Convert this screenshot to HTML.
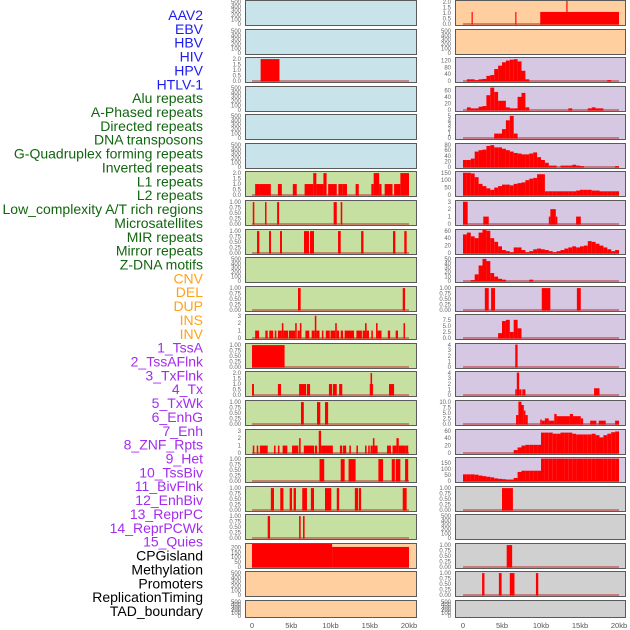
<!DOCTYPE html>
<html><head><meta charset="utf-8"><style>
html,body{margin:0;padding:0;background:#fff;width:630px;height:630px;overflow:hidden}
svg{display:block}
</style></head><body>
<svg id="chart" width="630" height="630" viewBox="0 0 630 630" xmlns="http://www.w3.org/2000/svg"></svg>
<script>
const labels = ["AAV2","EBV","HBV","HIV","HPV","HTLV-1","Alu repeats","A-Phased repeats","Directed repeats","DNA transposons","G-Quadruplex forming repeats","Inverted repeats","L1 repeats","L2 repeats","Low_complexity A/T rich regions","Microsatellites","MIR repeats","Mirror repeats","Z-DNA motifs","CNV","DEL","DUP","INS","INV","1_TssA","2_TssAFlnk","3_TxFlnk","4_Tx","5_TxWk","6_EnhG","7_Enh","8_ZNF_Rpts","9_Het","10_TssBiv","11_BivFlnk","12_EnhBiv","13_ReprPC","14_ReprPCWk","15_Quies","CPGisland","Methylation","Promoters","ReplicationTiming","TAD_boundary"];
const labelGroups = [6,13,5,15,5];
const groupColors = ["#1c1cf0","#11660f","#ffa31a","#a32cf0","#000000"];
const xTickLabels = ["0","5kb","10kb","15kb","20kb"];
const xTickValues = [0,5,10,15,20];

const E = [0,100,200,300,400,500];
const T1 = [0,0.25,0.5,0.75,1];
const T2 = [0,0.5,1,1.5,2];

const L_bg = ["#c8e4ea","#c8e4ea","#c8e4ea","#c8e4ea","#c8e4ea","#c8e4ea","#c6e0a2","#c6e0a2","#c6e0a2","#c6e0a2","#c6e0a2","#c6e0a2","#c6e0a2","#c6e0a2","#c6e0a2","#c6e0a2","#c6e0a2","#c6e0a2","#c6e0a2","#ffcf9f","#ffcf9f","#ffcf9f"];
const L_ymax = [520,520,2.1,520,520,520,2.1,1.05,1.05,520,1.05,3.1,1.05,2.1,1.05,3.1,1.05,1.05,1.05,235,520,520];
const L_ticks = [E,E,T2,E,E,E,T2,T1,T1,E,T1,[0,1,2,3],T1,T2,T1,[0,1,2,3],T1,T1,T1,[0,50,100,150,200],E,E];
const L_segs = [
 [],[],
 [[1.1,3.5,2]],
 [],[],[],
 [[0.4,0.9,1],[0.9,2.4,1],[3.3,3.8,1],[5.2,5.7,1],[6.7,7.8,1],[7.8,8.2,2],[8.2,9.1,1],[9.1,9.5,2],[9.7,10.8,1],[11,11.5,1],[11.5,12.1,1],[13.2,13.6,1],[15.2,15.5,1],[15.5,16.2,2],[16.2,16.5,1],[16.9,17.9,1],[18.1,18.9,1],[18.9,20,2]],
 [[0.1,0.3,1],[1.66,1.85,1],[3.2,3.45,1],[10.4,10.8,1],[11.3,11.5,1]],
 [[0.64,0.93,1],[2.17,2.42,1],[3.57,3.82,1],[6.62,7.26,1],[7.39,7.9,1],[10.96,11.3,1],[13.9,14.2,1],[17.96,18.26,1],[19.4,19.7,1]],
 [],
 [[5.86,6.2,1],[19.2,19.5,1]],
 [[0.4,0.9,1],[1.7,2.0,1],[2.2,2.7,1],[2.9,3.1,1],[3.3,3.8,1],[3.8,4.0,2],[4.0,4.6,1],[4.7,5.5,1],[5.5,5.7,2],[5.8,6.1,1],[6.1,6.3,2],[6.8,7.3,1],[7.6,8.0,1],[8.0,8.2,3],[8.2,8.6,1],[8.9,9.1,1],[9.4,9.9,1],[10.0,10.6,1],[10.6,10.8,2],[10.8,11.1,1],[11.3,11.6,1],[11.8,13.0,1],[13.3,14.0,1],[14.1,14.4,1],[14.4,14.6,2],[14.6,14.9,1],[15.2,15.4,1],[15.8,16.0,2],[16.0,16.5,1],[17.3,17.6,1],[18.3,18.6,1],[19.3,19.5,2]],
 [[0,4.15,1]],
 [[0,0.25,1],[3.3,3.7,1],[6.0,6.9,1],[7.0,7.4,1],[9.8,10.2,1],[10.3,10.8,1],[11.1,11.5,1],[15.0,15.1,1],[15.1,15.3,2],[15.3,15.4,1],[17.45,18.1,1]],
 [[6.24,6.6,1],[8.28,8.7,1],[9.3,9.7,1]],
 [[0.1,0.3,1],[0.6,0.8,1],[1.0,2.0,1],[2.8,3.0,1],[3.3,3.5,1],[3.9,4.5,1],[5.1,5.9,1],[6.0,6.2,2],[6.6,7.9,1],[8.0,8.3,1],[8.5,8.8,3],[8.8,9.3,1],[9.3,10.3,1],[11.2,11.5,1],[11.6,12.0,1],[12.4,12.6,1],[13.3,13.5,1],[14.4,14.6,1],[14.8,15.0,1],[15.1,15.4,1],[15.4,15.6,2],[15.6,16.0,1],[17.2,17.7,1],[17.9,18.4,1],[18.4,18.7,2],[18.7,19.6,1],[19.6,19.9,1]],
 [[8.6,9.2,1],[11.3,11.8,1],[12.3,13.2,1],[16.1,16.7,1],[17.8,18.2,1],[18.3,18.9,1],[19.5,19.9,1]],
 [[2.4,2.8,1],[3.6,4.0,1],[4.8,5.1,1],[5.3,5.6,1],[6.4,7.0,1],[7.5,7.9,1],[9.3,10.1,1],[10.8,11.1,1],[13.1,13.5,1],[13.6,13.9,1],[19.2,19.7,1]],
 [[2.0,2.3,1],[6.0,6.2,1],[6.5,6.7,1]],
 [[0,10.2,235],[10.2,20,205]],
 [],[]
];

const R_bg = ["#ffcf9f","#ffcf9f","#d6c7e2","#d6c7e2","#d6c7e2","#d6c7e2","#d6c7e2","#d6c7e2","#d6c7e2","#d6c7e2","#d6c7e2","#d6c7e2","#d6c7e2","#d6c7e2","#d6c7e2","#d6c7e2","#d6c7e2","#d0d0d0","#d0d0d0","#d0d0d0","#d0d0d0","#d0d0d0"];
const R_ymax = [2.1,520,135,70,5.2,82,155,3.1,62,52,1.05,9.5,4.1,4.1,10.3,62,190,1.05,520,1.05,1.05,520];
const R_ticks = [T2,E,[0,40,80,120],[0,20,40,60],[0,1,2,3,4,5],[0,20,40,60,80],[0,50,100,150],[0,1,2,3],[0,20,40,60],[0,10,20,30,40,50],T1,[0,2.5,5,7.5],[0,1,2,3,4],[0,1,2,3,4],[0,2.5,5,7.5,10],[0,20,40,60],[0,50,100,150],T1,E,T1,T1,E];
const R_bins = [
 null,null,
 [0,10,10,5,10,12,30,35,70,90,110,120,125,128,115,60,10,0,0,0,0,0,0,0,0,0,0,0,0,0,0,0,0,0,0,0,0,5,0,0],
 [0,8,5,5,10,12,45,68,55,28,28,8,5,5,40,52,8,0,0,0,0,0,0,0,0,0,0,5,0,0,0,0,5,8,5,5,0,0,0,0],
 [0,0,0,0,0,0,0,0,1,1,2,4,5,1,0,0,0,0,0,0,0,0,0,0,0,0,0,0,0,0,0,0,0,0,0,0,0,0,0,0],
 [25,25,30,55,60,62,75,78,70,70,65,60,55,50,48,45,45,48,52,35,25,15,5,5,0,5,5,5,8,5,3,0,0,0,0,0,0,0,0,3],
 [150,150,145,120,75,60,45,35,50,60,70,70,65,75,80,85,100,110,115,140,140,25,25,25,25,25,25,25,25,30,35,35,35,30,30,25,25,25,25,25],
 null,
 [50,55,45,40,55,62,60,40,30,18,8,5,2,15,15,8,2,5,10,12,10,8,5,2,5,8,12,15,18,15,18,20,32,30,25,20,15,10,5,8],
 [0,0,2,15,35,50,45,18,10,5,3,0,0,0,0,0,0,3,0,0,0,0,0,0,0,0,0,0,0,0,0,0,0,0,0,0,0,0,0,0],
 null,
 [0,0,0,0,0,0,0,0,0,2,7,7.5,2.5,7.5,4,0,0,0,0,0,0,0,0,0,0,0,0,0,0,0,0,0,0,0,0,0,0,0,0,0],
 null,null,null,
 [0,0,0,0,0,0,0,0,0,0,0,0,0,8,15,20,22,22,22,22,55,55,55,52,52,55,55,55,52,50,50,50,50,52,48,42,48,52,56,58],
 [55,55,55,52,45,40,35,30,22,18,15,12,12,25,75,85,85,85,85,85,185,185,185,185,185,185,185,185,185,185,185,185,185,185,185,185,185,185,185,185],
 null,null,null,null,null
];
const R_segs = [
 [[1.1,1.25,1.1],[6.7,6.85,1.1],[9.9,20,1.1],[13.25,13.4,2.1]],
 [],null,null,null,null,null,
 [[0,0.6,3],[2.6,3.3,1],[11.0,11.2,1],[11.2,11.9,2],[11.9,12.1,1],[14.5,15.1,1]],
 null,null,
 [[2.8,3.3,1],[3.6,4.1,1],[10.1,11.2,1],[14.6,15.1,1]],
 null,
 [[6.7,7.0,4]],
 [[6.7,6.9,1],[6.9,7.2,4],[7.2,7.5,1],[7.6,8.0,1],[16.8,17.5,1.2]],
 [[6.8,7.1,4],[7.1,7.5,10],[7.5,7.8,8.5],[7.8,8.0,6],[8.0,8.3,4],[9.9,10.1,2],[10.1,10.5,1.5],[10.5,11.0,2.5],[11.0,11.7,1.5],[11.7,12.0,4.5],[12.0,13.7,3.5],[13.7,14.1,4.5],[14.1,15.1,3.5],[15.1,15.4,2.5],[16.3,17.1,1.5],[17.4,18.3,1.5],[19.5,20.0,1.5]],
 null,null,
 [[5.0,6.4,1]],
 [],
 [[5.6,6.3,1]],
 [[2.45,2.75,1],[4.6,4.95,1],[6.0,6.6,1],[9.35,9.65,1]],
 []
];

const NS = "http://www.w3.org/2000/svg";
const svg = document.getElementById("chart");
function mk(tag, attrs, parent){ const e=document.createElementNS(NS,tag); for(const k in attrs) e.setAttribute(k,attrs[k]); (parent||svg).appendChild(e); return e; }

// labels
let gi=0, gc=0;
for(let j=0;j<labels.length;j++){
  while(gc>=labelGroups[gi]){gi++;gc=0;}
  gc++;
  const t=mk("text",{x:203,y:(15+j*13.86+5).toFixed(1),"text-anchor":"end","font-size":"14","font-family":"Liberation Sans, sans-serif",fill:groupColors[gi]});
  t.textContent=labels[j];
  
  
}

const cols=[{boxL:245,boxR:416,x0:252,x1:409,side:"left",bg:L_bg,ymax:L_ymax,ticks:L_ticks},{boxL:455,boxR:625,x0:463,x1:619,side:"right",bg:R_bg,ymax:R_ymax,ticks:R_ticks}];
function fmt(v,ticks){
  const step=ticks.length>1?ticks[1]-ticks[0]:1;
  if(step===0.25) return v.toFixed(2);
  if(step===0.5||step===2.5) return v.toFixed(1);
  return String(v);
}
for(let c=0;c<2;c++){
  const col=cols[c];
  const xs=v=>col.x0+(v/20)*(col.x1-col.x0);
  for(let i=0;i<22;i++){
    const top=Math.round(i*28.57), h=(i===21?17:25);
    const g=mk("g",{});
    
    
    const bg=mk("rect",{x:col.boxL+0.5,y:top+0.5,width:col.boxR-col.boxL,height:h,fill:col.bg[i],stroke:"#5a5a5a","stroke-width":1},g);
    
    
    const y0=top+h-1, M=col.ymax[i];
    const ys=v=>y0-(v/M)*(h-2);
    let segs=[];
    if(c===0) segs=L_segs[i]; else {
      if(R_bins[i]) R_bins[i].forEach((v,k)=>{ if(v>0) segs.push([k*0.5,k*0.5+0.5,v]); });
      else segs=R_segs[i]||[];
    }
    if(segs.length){
      const bl=mk("line",{x1:xs(0),x2:xs(20),y1:y0,y2:y0,stroke:"rgba(190,40,40,0.5)","stroke-width":2},g);
      
      
    }
    segs.forEach(s=>{
      const yt=Math.max(top+1,ys(s[2]));
      const r=mk("rect",{x:xs(s[0]).toFixed(2),y:yt.toFixed(2),width:Math.max(1,xs(s[1])-xs(s[0])).toFixed(2),height:(y0+0.5-yt).toFixed(2),fill:"#ff0000"},g);
      
      
    });
    col.ticks[i].forEach(tv=>{
      const ty=Math.max(top+2,ys(tv));
      const t=mk("text",{x:col.boxL-4,y:(ty+2).toFixed(1),"text-anchor":"end","font-size":"6","font-family":"Liberation Sans, sans-serif",fill:"#666"},g);
      t.textContent=fmt(tv,col.ticks[i]);
      
      
    });
  }
  xTickValues.forEach((v,k)=>{
    const t=mk("text",{x:xs(v).toFixed(1),y:628,"text-anchor":"middle","font-size":"7.5","font-family":"Liberation Sans, sans-serif",fill:"#555"});
    t.textContent=xTickLabels[k];
    
    
  });
}
</script>
</body></html>
